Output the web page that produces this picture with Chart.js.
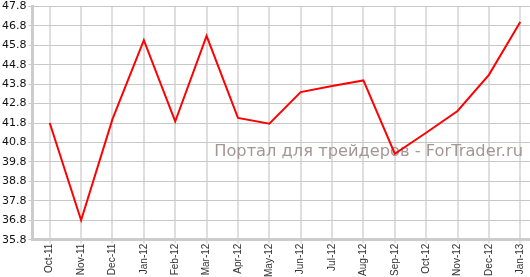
<!DOCTYPE html>
<html>
<head>
<meta charset="utf-8">
<script src="https://cdn.jsdelivr.net/npm/chart.js@4.4.1/dist/chart.umd.min.js"></script>
<style>
  html, body { margin: 0; padding: 0; background: #fff; }
  #wrap { width: 530px; height: 277px; }
</style>
</head>
<body>
<div id="wrap"><canvas id="chart"></canvas></div>
<script>
// месяцы по оси X
var months = ['Oct-11', 'Nov-11', 'Dec-11', 'Jan-12', 'Feb-12', 'Mar-12', 'Apr-12', 'May-12',
  'Jun-12', 'Jul-12', 'Aug-12', 'Sep-12', 'Oct-12', 'Nov-12', 'Dec-12', 'Jan-13'];
// значения линии
var values = [41.8, 36.8, 42.0, 46.06, 41.88, 46.28, 42.06, 41.77,
  43.39, 43.7, 43.99, 40.22, 41.3, 42.42, 44.28, 47.0];
// подписи оси Y
var yTicks = [35.8, 36.8, 37.8, 38.8, 39.8, 40.8, 41.8, 42.8, 43.8, 44.8, 45.8, 46.8, 47.8];
var watermark = 'Портал для трейдеров - ForTrader.ru';

var points = values.map(function (v, i) { return { x: i, y: v }; });

// водяной знак под линией
var watermarkPlugin = {
  id: 'watermark',
  beforeDatasetsDraw: function (chart) {
    var ctx = chart.ctx;
    ctx.save();
    ctx.font = '100px "DejaVu Sans"';
    var w = ctx.measureText(watermark).width;
    var size = 100 * 309 / w;
    ctx.font = size + 'px "DejaVu Sans"';
    ctx.fillStyle = '#a39696';
    ctx.textAlign = 'right';
    ctx.textBaseline = 'alphabetic';
    ctx.fillText(watermark, chart.width - 7, 156);
    ctx.restore();
  }
};

var ctx = document.getElementById('chart').getContext('2d');
var chart = new Chart(ctx, {
  type: 'line',
  data: {
    datasets: [{
      data: points,
      borderColor: '#ff0000',
      borderWidth: 2,
      pointRadius: 0,
      tension: 0,
      fill: false
    }]
  },
  options: {
    responsive: true,
    maintainAspectRatio: false,
    animation: false,
    layout: { padding: { top: 0, right: 0, left: 0, bottom: 0 } },
    plugins: {
      legend: { display: false },
      tooltip: { enabled: false }
    },
    scales: {
      x: {
        type: 'linear',
        min: -0.55,
        max: 15.31,
        afterBuildTicks: function (scale) {
          scale.ticks = months.map(function (m, i) { return { value: i }; });
        },
        ticks: {
          autoSkip: false,
          minRotation: 90,
          maxRotation: 90,
          padding: 0,
          color: '#333',
          font: { family: '"Liberation Sans", Arial', size: 10, lineHeight: 0.6 },
          callback: function (v) { return months[Math.round(v)]; }
        },
        grid: { color: '#dedede', lineWidth: 2, tickLength: 4, tickColor: '#c8c8c8', tickWidth: 1 },
        border: { color: '#cccccc', width: 3 }
      },
      y: {
        min: 35.8,
        max: 47.8,
        afterBuildTicks: function (scale) {
          scale.ticks = yTicks.map(function (t) { return { value: t }; });
        },
        ticks: {
          padding: 2,
          color: '#111',
          font: { family: '"DejaVu Sans", Verdana', size: 11, lineHeight: 0.8 },
          callback: function (v) { return Number(v).toFixed(1); }
        },
        grid: { color: '#c8c8c8', lineWidth: 1, tickLength: 4 },
        border: { color: '#cccccc', width: 3 }
      }
    }
  },
  plugins: [watermarkPlugin]
});
</script>
</body>
</html>
